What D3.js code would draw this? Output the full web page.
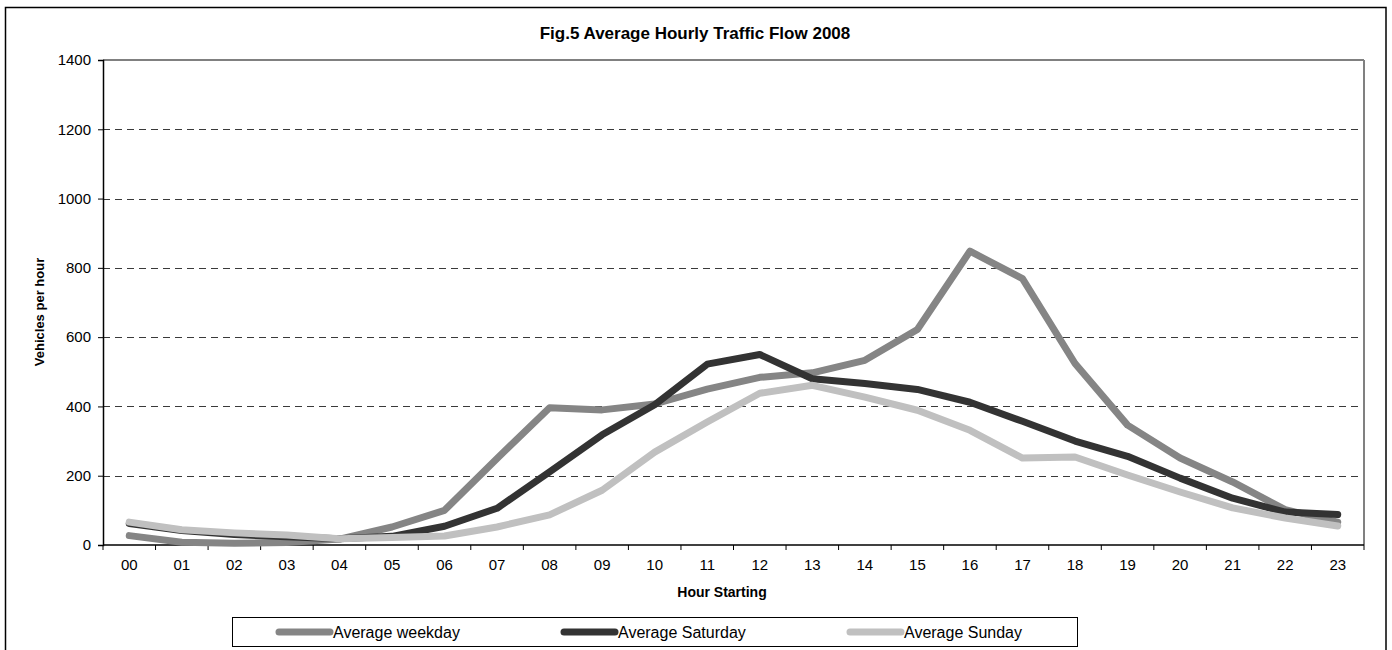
<!DOCTYPE html>
<html>
<head>
<meta charset="utf-8">
<script src="https://cdn.jsdelivr.net/npm/d3@7"></script>
<style>
  html, body { margin: 0; padding: 0; background: #fff; }
  svg { display: block; font-family: "Liberation Sans", Arial, sans-serif; }
</style>
</head>
<body>
<svg id="chart" width="1392" height="650"></svg>
<script>
const hours = ["00","01","02","03","04","05","06","07","08","09","10","11","12","13","14","15","16","17","18","19","20","21","22","23"];
const weekday  = [27, 8, 5, 7, 17, 52, 100, 250, 396, 390, 407, 450, 484, 497, 533, 622, 848, 769, 524, 346, 251, 182, 102, 66];
const saturday = [62, 42, 30, 24, 18, 25, 54, 106, 211, 318, 405, 522, 550, 480, 466, 449, 412, 357, 300, 256, 193, 135, 95, 88];
const sunday   = [66, 44, 35, 29, 18, 22, 26, 52, 87, 158, 268, 355, 438, 461, 427, 389, 331, 251, 254, 202, 153, 107, 78, 55];
const yTicks = [0, 200, 400, 600, 800, 1000, 1200, 1400];
const seriesNames = ["Average weekday", "Average Saturday", "Average Sunday"];
const seriesColors = ["#858585", "#333333", "#c0c0c0"];
const titleText = "Fig.5 Average Hourly Traffic Flow 2008";
const yTitle = "Vehicles per hour";
const xTitle = "Hour Starting";

const svg = d3.select("#chart");
const L = 103, R = 1364, T = 60, B = 545;

const x = d3.scaleBand().domain(hours).range([L, R]).padding(0);
const y = d3.scaleLinear().domain([0, 1400]).range([B, T]);

// outer border
svg.append("rect").attr("x", 5.5).attr("y", 7.5).attr("width", 1380.5).attr("height", 700)
  .attr("fill", "none").attr("stroke", "#000").attr("stroke-width", 1.5);

// title
svg.append("text").attr("x", 695).attr("y", 39).attr("text-anchor", "middle")
  .attr("font-weight", "bold").attr("font-size", 17).text(titleText);

// gridlines
svg.append("g").selectAll("line").data(yTicks.filter(d => d > 0 && d < 1400)).join("line")
  .attr("x1", L).attr("x2", R).attr("y1", d => Math.round(y(d)) + 0.5).attr("y2", d => Math.round(y(d)) + 0.5)
  .attr("stroke", "#3a3a3a").attr("stroke-width", 1).attr("stroke-dasharray", "7,5");

// plot area top/right borders
svg.append("line").attr("x1", L).attr("x2", R).attr("y1", y(1400)).attr("y2", y(1400))
  .attr("stroke", "#808080").attr("stroke-width", 2);
svg.append("line").attr("x1", R).attr("x2", R).attr("y1", y(1400)).attr("y2", B)
  .attr("stroke", "#808080").attr("stroke-width", 2);

// y axis
const yAxis = svg.append("g").attr("transform", `translate(${L},0)`)
  .call(d3.axisLeft(y).tickValues(yTicks).tickSize(5).tickPadding(7).tickFormat(d3.format("d")));
yAxis.select(".domain").attr("stroke", "#000").attr("stroke-width", 1.5);
yAxis.selectAll(".tick line").attr("stroke", "#000");
yAxis.selectAll("text").attr("font-size", 15).attr("fill", "#000").attr("font-family", "Liberation Sans, Arial, sans-serif");

// x axis: labels at band centers, ticks at band boundaries
const xAxis = svg.append("g").attr("transform", `translate(0,${B})`)
  .call(d3.axisBottom(x).tickSize(0).tickPadding(14));
xAxis.select(".domain").remove();
xAxis.selectAll("text").attr("font-size", 15).attr("fill", "#000").attr("font-family", "Liberation Sans, Arial, sans-serif");
const bounds = hours.map(h => x(h)).concat([x.range()[1]]);
svg.append("g").selectAll("line").data(bounds).join("line")
  .attr("x1", d => d).attr("x2", d => d).attr("y1", B).attr("y2", B + 5)
  .attr("stroke", "#000").attr("stroke-width", 1);
svg.append("line").attr("x1", L).attr("x2", R).attr("y1", B).attr("y2", B)
  .attr("stroke", "#000").attr("stroke-width", 1.5);

// axis titles
svg.append("text").attr("transform", `translate(44,312) rotate(-90)`).attr("text-anchor", "middle")
  .attr("font-weight", "bold").attr("font-size", 13).text(yTitle);
svg.append("text").attr("x", 722).attr("y", 597).attr("text-anchor", "middle")
  .attr("font-weight", "bold").attr("font-size", 14).text(xTitle);

// lines
const allSeries = [weekday, saturday, sunday];
const line = d3.line().x((d, i) => x(hours[i]) + x.bandwidth() / 2).y(d => y(d));
svg.append("g").selectAll("path").data(allSeries).join("path")
  .attr("d", d => line(d)).attr("fill", "none")
  .attr("stroke", (d, i) => seriesColors[i]).attr("stroke-width", 7)
  .attr("stroke-linecap", "round").attr("stroke-linejoin", "round");

// legend
const lg = svg.append("g");
lg.append("rect").attr("x", 232.5).attr("y", 617.5).attr("width", 845).attr("height", 29)
  .attr("fill", "#fff").attr("stroke", "#000").attr("stroke-width", 1);
const legendX = [279, 564, 850];
seriesNames.forEach((name, i) => {
  lg.append("line").attr("x1", legendX[i]).attr("x2", legendX[i] + 51).attr("y1", 632).attr("y2", 632)
    .attr("stroke", seriesColors[i]).attr("stroke-width", 7).attr("stroke-linecap", "round");
  lg.append("text").attr("x", legendX[i] + 54).attr("y", 638).attr("font-size", 16).text(name);
});
</script>
</body>
</html>
